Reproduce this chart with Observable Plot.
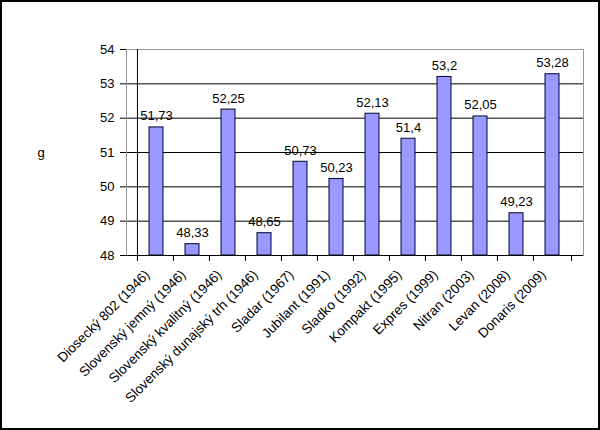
<!DOCTYPE html>
<html><head><meta charset="utf-8">
<script src="https://cdn.jsdelivr.net/npm/d3@7"></script>
<script src="https://cdn.jsdelivr.net/npm/@observablehq/plot@0.6"></script>
<style>body{margin:0;background:#fff}</style></head>
<body><div id="chart"></div>
<script>
const categories = ["Diosecký 802 (1946)", "Slovenský jemný (1946)", "Slovenský kvalitný (1946)", "Slovenský dunajský trh (1946)", "Sladar (1967)", "Jubilant (1991)", "Sladko (1992)", "Kompakt (1995)", "Expres (1999)", "Nitran (2003)", "Levan (2008)", "Donaris (2009)"];
const values = [51.73, 48.33, 52.25, 48.65, 50.73, 50.23, 52.13, 51.4, 53.2, 52.05, 49.23, 53.28];
const yTicks = [48, 49, 50, 51, 52, 53, 54];
const yLabel = "g";

const data = categories.map((c, i) => ({c, v: values[i]}));
const half = (600 - 126 - 17) / categories.length / 2;

const chart = Plot.plot({
  width: 600, height: 430,
  marginLeft: 126, marginRight: 17, marginTop: 49, marginBottom: 175,
  style: {fontFamily: "'Liberation Sans', Arial, sans-serif", fontSize: "13px", color: "#000", background: "#fff", outline: "2px solid #000", outlineOffset: "-2px"},
  x: {domain: categories, padding: 0.6, label: null},
  y: {domain: [48, 54], ticks: yTicks, label: null},
  marks: [
    Plot.ruleY(yTicks.slice(1, -1), {stroke: "#000", strokeWidth: 1}),
    Plot.frame({stroke: "#999"}),
    Plot.barY(data, {x: "c", y1: 48, y2: "v", fill: "#9999ff", stroke: "#000033", strokeWidth: 1}),
    Plot.text(data, {x: "c", y: "v", text: d => String(d.v).replace(".", ","), lineAnchor: "bottom", dy: -7, fill: "#000", fontSize: 13}),
    Plot.ruleY([48], {stroke: "#000"}),
    Plot.ruleX([categories[0]], {x: d => d, y1: 48, y2: 54, dx: -half, stroke: "#000"}),
    Plot.ruleX(categories, {x: d => d, y1: 48, y2: 48, dx: -half, insetBottom: -6, stroke: "#000"}),
    Plot.ruleX([categories[categories.length - 1]], {x: d => d, y1: 48, y2: 48, dx: half, insetBottom: -6, stroke: "#000"}),
    Plot.axisY({ticks: yTicks, tickSize: 6, tickPadding: 6, tickFormat: d => d, label: null, fontSize: 13, stroke: "#000"}),
    Plot.axisX({tickRotate: -45, tickSize: 0, tickPadding: 17, dx: -9, label: null, fontSize: 13.5}),
    Plot.text([yLabel], {frameAnchor: "left", dx: -89, fontSize: 13, fill: "#000"})
  ]
});
document.getElementById("chart").append(chart);
</script>
</body></html>
